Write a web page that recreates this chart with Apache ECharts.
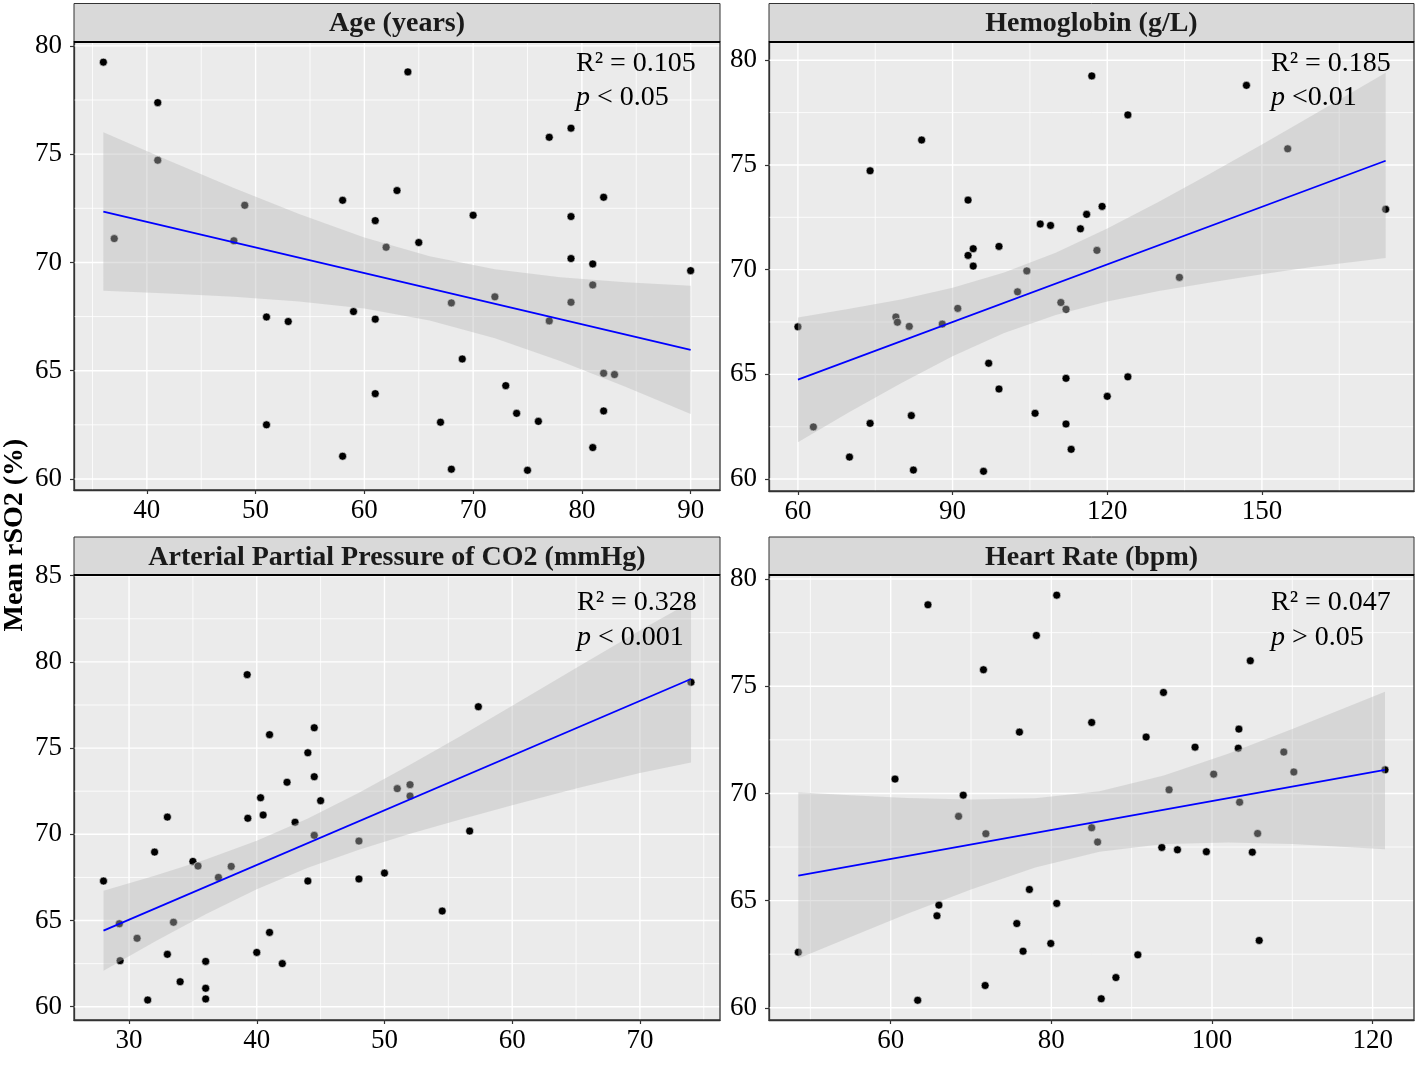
<!DOCTYPE html>
<html><head><meta charset="utf-8">
<script src="https://cdn.jsdelivr.net/npm/echarts@6/dist/echarts.min.js"></script>
<style>html,body{margin:0;padding:0;background:#fff}#c{width:1418px;height:1065px}</style>
</head><body><div id="c"></div>
<script>
// ---------- DATA ----------
const panelTitles = ['Age (years)', 'Hemoglobin (g/L)', 'Arterial Partial Pressure of CO2 (mmHg)', 'Heart Rate (bpm)'];
const r2Labels = ['R\u00B2 = 0.105', 'R\u00B2 = 0.185', 'R\u00B2 = 0.328', 'R\u00B2 = 0.047'];
const pLabels = [' < 0.05', ' <0.01', ' < 0.001', ' > 0.05'];
const yTitle = 'Mean rSO2 (%)';

// Age panel
const ageX = [36,37,41,41,49,48,51,53,51,58,58,59,61,61,61,62,63,64,65,70,68,72,69,73,67,68,74,76,75,77,79,79,79,79,77,82,81,81,82,83,82,81,90];
const ageY = [79.25,71.1,77.38,74.72,72.64,71.0,67.48,67.27,62.5,72.87,61.05,67.73,71.93,67.38,63.94,70.7,73.32,78.8,70.92,72.18,68.13,68.41,65.54,64.31,62.62,60.45,63.03,62.66,60.4,75.78,76.2,72.12,70.18,68.16,67.3,73.01,69.93,68.96,64.88,64.82,63.14,61.45,69.62];
const ageFitX = [36, 90];
const ageFitY = [72.35, 65.96];
const ageBandX = [36,42,48,54,60,66,72,78,84,90];
const ageBandLo = [68.69,68.57,68.42,68.20,67.87,67.32,66.50,65.45,64.26,63.00];
const ageBandHi = [76.01,74.71,73.44,72.24,71.15,70.28,69.68,69.31,69.08,68.92];

// Hemoglobin panel
const hbX = [60,63,70,74,74,84,79,79.3,81.6,82,82.4,88,91,93,93,94,94,96,97,99,99,102.6,104.4,106,107,109,111,112,112,112,113,114.8,117,116,119,118,124,124,120,134,147,155,174];
const hbY = [67.27,62.49,61.05,74.72,62.66,76.19,67.74,67.49,67.29,63.03,60.43,67.4,68.15,73.32,70.68,71.0,70.17,60.37,65.53,71.11,64.3,68.94,69.94,63.14,72.18,72.11,68.43,68.11,64.81,62.63,61.42,71.95,79.25,72.64,73.02,70.92,77.39,64.88,63.95,69.63,78.8,75.77,72.88];
const hbFitX = [60, 174];
const hbFitY = [64.75, 75.2];
const hbBandX = [60,70,80,90,100,110,120,130,140,150,160,174];
const hbBandLo = [61.76,63.20,64.58,65.87,66.98,67.84,68.48,68.98,69.39,69.78,70.14,70.55];
const hbBandHi = [67.72,68.13,68.58,69.13,69.86,70.81,71.96,73.24,74.59,75.98,77.40,79.40];

// PaCO2 panel
const coX = [28,29.24,29.3,30.63,31.46,32,33,33,33.48,34,35,35.4,36,36,36,37,38,39.25,39.3,40,40.3,40.5,41,41,42,42.37,43,44,44,44.5,44.5,44.5,45,48,48,50,51,52,52,57.35,56.67,54.52,74];
const coY = [67.29,64.81,62.67,63.97,60.39,68.97,71.0,63.04,64.9,61.45,68.43,68.16,62.63,61.07,60.45,67.5,68.14,79.26,70.93,63.15,72.12,71.12,75.78,64.31,62.5,73.02,70.7,74.73,67.29,76.18,73.34,69.94,71.95,69.61,67.41,67.75,72.65,72.88,72.22,77.4,70.19,65.55,78.82];
const coFitX = [28, 74];
const coFitY = [64.41, 79.01];
const coBandX = [28,32,36,40,44,48,52,56,60,65,70,74];
const coBandLo = [62.09,63.77,65.36,66.81,68.06,69.11,70.03,70.88,71.68,72.65,73.55,74.17];
const coBandHi = [66.73,67.59,68.54,69.63,70.92,72.41,74.03,75.72,77.46,79.65,81.82,83.49];

// Heart rate panel
const hrX = [48.5,63.36,60.54,64.64,65.76,66.0,68.45,69.03,71.55,71.85,71.76,76.03,75.7,77.27,76.48,78.14,80.67,80.67,79.93,85.02,85.02,85.76,86.21,88.04,90.77,91.8,93.96,93.75,94.66,95.7,97.89,99.3,100.21,103.35,103.27,103.44,104.77,105.02,105.68,105.88,108.94,110.19,121.54];
const hrY = [62.59,60.35,70.67,78.8,64.29,64.79,68.93,69.92,75.77,68.12,61.04,72.86,63.93,65.52,62.64,77.37,79.25,64.87,63.0,73.31,68.4,67.73,60.42,61.41,62.47,72.63,74.71,67.48,70.17,67.37,72.16,67.28,70.9,73.0,72.11,69.59,76.19,67.26,68.13,63.14,71.93,71.0,71.1];
const hrFitX = [48.5, 121.54];
const hrFitY = [66.17, 71.1];
const hrBandX = [48.5,55,62,70,78,86,94,102,110,121.54];
const hrBandLo = [62.3,63.30,64.37,65.52,66.54,67.28,67.64,67.71,67.64,67.39];
const hrBandHi = [70.06,69.92,69.79,69.72,69.78,70.10,70.84,71.85,73.0,74.74];

// Tick values
const xTicks = [[40,50,60,70,80,90],[60,90,120,150],[30,40,50,60,70],[60,80,100,120]];
const yTicks = [[60,65,70,75,80],[60,65,70,75,80],[60,65,70,75,80,85],[60,65,70,75,80]];
const xMinor = [[35,45,55,65,75,85],[75,105,135,165],[35,45,55,65,75],[50,70,90,110]];
const yMinor = [[62.5,67.5,72.5,77.5],[62.5,67.5,72.5,77.5],[62.5,67.5,72.5,77.5,82.5],[62.5,67.5,72.5,77.5]];

// ---------- LAYOUT ----------
const FONT = 'Liberation Serif';
const layout = [
  {left:74, top:42, width:646, height:448, xMin:33.3, xMax:92.7, yMin:59.49, yMax:80.18, stripTop:3.5, ax:576, ay1:64, ay2:98},
  {left:769, top:42, width:645, height:449, xMin:54.39, xMax:179.5, yMin:59.43, yMax:80.87, stripTop:3.5, ax:1271, ay1:64, ay2:98},
  {left:74, top:575, width:646, height:445, xMin:25.69, xMax:76.27, yMin:59.23, yMax:85.04, stripTop:537, ax:577, ay1:603, ay2:637.5},
  {left:769, top:575, width:645, height:445, xMin:44.85, xMax:125.15, yMin:59.43, yMax:80.19, stripTop:537, ax:1271, ay1:603, ay2:637.5}
];
const pts = [[ageX,ageY],[hbX,hbY],[coX,coY],[hrX,hrY]];
const fits = [[ageFitX,ageFitY],[hbFitX,hbFitY],[coFitX,coFitY],[hrFitX,hrFitY]];
const bands = [[ageBandX,ageBandLo,ageBandHi],[hbBandX,hbBandLo,hbBandHi],[coBandX,coBandLo,coBandHi],[hrBandX,hrBandLo,hrBandHi]];

const grids = [], xAxes = [], yAxes = [], series = [], graphics = [];

function gridSeries(idx, vals, dir, w, L) {
  return {
    type: 'custom', xAxisIndex: idx, yAxisIndex: idx, z: 1, silent: true, clip: false,
    data: vals.map(v => dir === 'v' ? [v, L.yMin] : [L.xMin, v]),
    renderItem: function (params, api) {
      const cs = params.coordSys;
      const p = api.coord([api.value(0), api.value(1)]);
      if (dir === 'v') return {type: 'line', shape: {x1: p[0], y1: cs.y, x2: p[0], y2: cs.y + cs.height}, style: {stroke: '#ffffff', lineWidth: w}};
      return {type: 'line', shape: {x1: cs.x, y1: p[1], x2: cs.x + cs.width, y2: p[1]}, style: {stroke: '#ffffff', lineWidth: w}};
    }
  };
}

function ribbonSeries(idx, bx, lo, hi) {
  return {
    type: 'custom', xAxisIndex: idx, yAxisIndex: idx, z: 4, silent: true,
    data: [[bx[0], lo[0]]],
    renderItem: function (params, api) {
      const poly = [];
      for (let i = 0; i < bx.length; i++) poly.push(api.coord([bx[i], hi[i]]));
      for (let i = bx.length - 1; i >= 0; i--) poly.push(api.coord([bx[i], lo[i]]));
      return {type: 'polygon', shape: {points: poly}, style: {fill: 'rgba(185,185,185,0.42)'}};
    }
  };
}

layout.forEach((L, i) => {
  grids.push({left: L.left, top: L.top, width: L.width, height: L.height, show: true,
    backgroundColor: '#EBEBEB', borderWidth: 0, containLabel: false});
  xAxes.push({type: 'value', gridIndex: i, min: L.xMin, max: L.xMax,
    axisLine: {show: true, onZero: false, lineStyle: {color: '#333333', width: 1.3}},
    axisTick: {show: true, length: 4, customValues: xTicks[i], lineStyle: {color: '#333333', width: 1.2}},
    axisLabel: {show: true, customValues: xTicks[i], margin: 7, color: '#000', fontSize: 27, fontFamily: FONT},
    splitLine: {show: false}, minorSplitLine: {show: false}});
  yAxes.push({type: 'value', gridIndex: i, min: L.yMin, max: L.yMax,
    axisLine: {show: true, onZero: false, lineStyle: {color: '#333333', width: 1.3}},
    axisTick: {show: true, length: 4, customValues: yTicks[i], lineStyle: {color: '#333333', width: 1.2}},
    axisLabel: {show: true, customValues: yTicks[i], margin: 12, color: '#000', fontSize: 27, fontFamily: FONT},
    splitLine: {show: false}});

  series.push(gridSeries(i, xMinor[i], 'v', 0.8, L));
  series.push(gridSeries(i, yMinor[i], 'h', 0.8, L));
  series.push(gridSeries(i, xTicks[i], 'v', 1.4, L));
  series.push(gridSeries(i, yTicks[i], 'h', 1.4, L));
  const [xs, ys] = pts[i];
  series.push({type: 'scatter', xAxisIndex: i, yAxisIndex: i, z: 3, silent: true,
    symbol: 'circle', symbolSize: 8, itemStyle: {color: '#000000', opacity: 1, borderColor: 'rgba(255,255,255,0.7)', borderWidth: 0.8},
    data: xs.map((x, k) => [x, ys[k]])});
  const [bx, lo, hi] = bands[i];
  series.push(ribbonSeries(i, bx, lo, hi));
  const [fx, fy] = fits[i];
  series.push({type: 'line', xAxisIndex: i, yAxisIndex: i, z: 5, silent: true,
    symbol: 'none', lineStyle: {color: '#0000FF', width: 1.8},
    data: fx.map((x, k) => [x, fy[k]])});

  // panel border
  graphics.push({type: 'rect', z: 100, silent: true,
    shape: {x: L.left, y: L.top, width: L.width, height: L.height},
    style: {fill: 'none', stroke: '#333333', lineWidth: 1.3}});
  // strip
  const sh = L.top - L.stripTop;
  graphics.push({type: 'rect', z: 100, silent: true,
    shape: {x: L.left, y: L.stripTop, width: L.width, height: sh},
    style: {fill: '#D9D9D9', stroke: '#333333', lineWidth: 1}});
  graphics.push({type: 'line', z: 101, silent: true,
    shape: {x1: L.left, y1: L.top, x2: L.left + L.width, y2: L.top},
    style: {stroke: '#000000', lineWidth: 2}});
  graphics.push({type: 'text', z: 102, silent: true,
    x: L.left + L.width / 2, y: L.stripTop + sh / 2 + 1.3,
    style: {text: panelTitles[i], fontSize: 28, fontWeight: 'bold', fontFamily: FONT, fill: '#1A1A1A',
      align: 'center', verticalAlign: 'middle', textAlign: 'center', textVerticalAlign: 'middle'}});
  // annotations
  graphics.push({type: 'text', z: 102, silent: true, x: L.ax, y: L.ay1,
    style: {text: r2Labels[i], fontSize: 28, fontFamily: FONT, fill: '#000',
      align: 'left', verticalAlign: 'middle', textAlign: 'left', textVerticalAlign: 'middle'}});
  graphics.push({type: 'text', z: 102, silent: true, x: L.ax, y: L.ay2,
    style: {text: '{i|p}' + pLabels[i], fontSize: 28, fontFamily: FONT, fill: '#000',
      align: 'left', verticalAlign: 'middle', textAlign: 'left', textVerticalAlign: 'middle',
      rich: {i: {fontStyle: 'italic', fontSize: 28, fontFamily: FONT, fill: '#000'}}}});
});

graphics.push({type: 'text', z: 102, silent: true, x: 15, y: 535, rotation: Math.PI / 2,
  style: {text: yTitle, fontSize: 28, fontWeight: 'bold', fontFamily: FONT, fill: '#000',
    align: 'center', verticalAlign: 'middle', textAlign: 'center', textVerticalAlign: 'middle'}});

const chart = echarts.init(document.getElementById('c'), null, {renderer: 'canvas'});
chart.setOption({
  animation: false,
  backgroundColor: '#ffffff',
  textStyle: {fontFamily: FONT},
  grid: grids, xAxis: xAxes, yAxis: yAxes, series: series,
  graphic: {elements: graphics}
});
</script></body></html>
